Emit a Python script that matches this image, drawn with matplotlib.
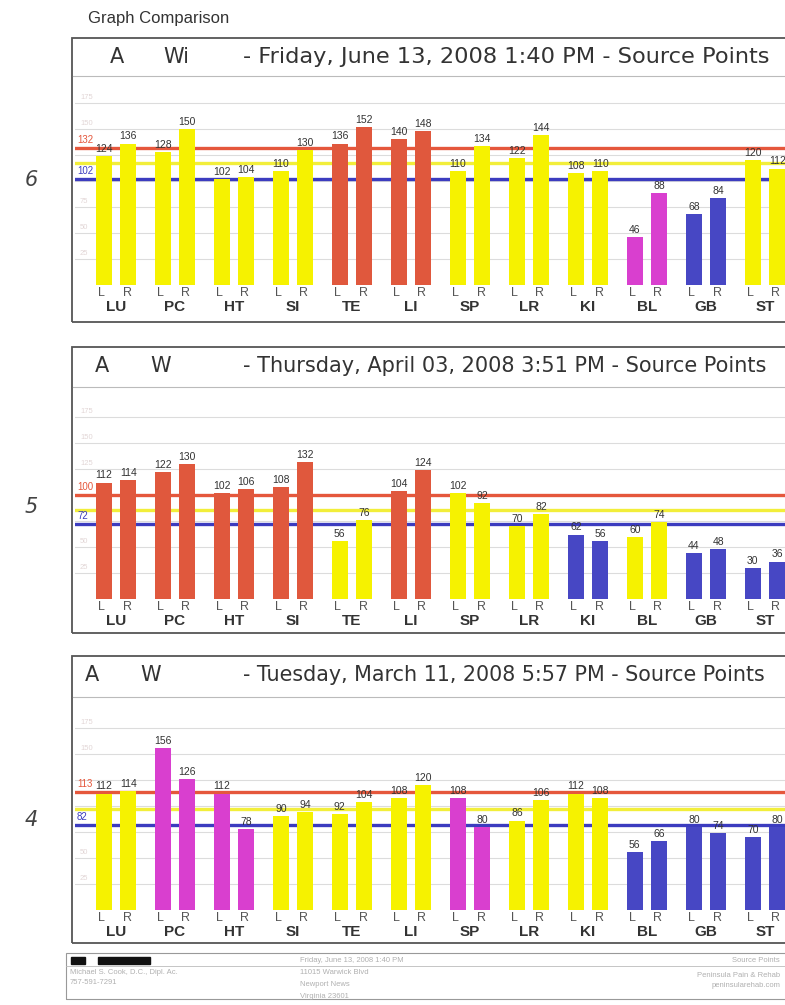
import matplotlib
matplotlib.use('Agg')
import matplotlib.pyplot as plt
from matplotlib.patches import Rectangle
from matplotlib.lines import Line2D

plt.rcParams['font.family'] = ['Liberation Sans', 'DejaVu Sans']

#-------------------------------------------------------------------------------
# data
#-------------------------------------------------------------------------------
groups = ['LU', 'PC', 'HT', 'SI', 'TE', 'LI', 'SP', 'LR', 'KI', 'BL', 'GB', 'ST']
grid_vals = [25, 50, 75, 100, 125, 150, 175]

titles = ['- Friday, June 13, 2008 1:40 PM - Source Points',
          '- Thursday, April 03, 2008 3:51 PM - Source Points',
          '- Tuesday, March 11, 2008 5:57 PM - Source Points']
names = ['Wi', 'W', 'W']
marks = ['6', '5', '4']

june_L = [124, 128, 102, 110, 136, 140, 110, 122, 108, 46, 68, 120]
june_R = [136, 150, 104, 130, 152, 148, 134, 144, 110, 88, 84, 112]
june_col = ['y', 'y', 'y', 'y', 'r', 'r', 'y', 'y', 'y', 'm', 'b', 'y']
june_lines = [132, 117, 102]   # red, yellow, blue

april_L = [112, 122, 102, 108, 56, 104, 102, 70, 62, 60, 44, 30]
april_R = [114, 130, 106, 132, 76, 124, 92, 82, 56, 74, 48, 36]
april_col = ['r', 'r', 'r', 'r', 'y', 'r', 'y', 'y', 'b', 'y', 'b', 'b']
april_lines = [100, 86, 72]

march_L = [112, 156, 112, 90, 92, 108, 108, 86, 112, 56, 80, 70]
march_R = [114, 126, 78, 94, 104, 120, 80, 106, 108, 66, 74, 80]
march_col = ['y', 'm', 'm', 'y', 'y', 'y', 'm', 'y', 'y', 'b', 'b', 'b']
march_lines = [113, 97, 82]

panels = [(june_L, june_R, june_col, june_lines),
          (april_L, april_R, april_col, april_lines),
          (march_L, march_R, march_col, march_lines)]

barcolors = {'y': '#f6f200', 'r': '#e0583d', 'm': '#d93fcf', 'b': '#4747c4'}
linecolors = ['#e5573c', '#f2ee3a', '#3c3cbf']

#-------------------------------------------------------------------------------
W, H = 785, 1005
def rect(x0, y0, x1, y1):
    return [x0/W, 1-y1/H, (x1-x0)/W, (y1-y0)/H]

fig = plt.figure(figsize=(W/100, H/100), dpi=100)
fig.patch.set_facecolor('white')

fig.text(88/W, 1-18/H, 'Graph Comparison', fontsize=12, color='#333333', va='center', ha='left')

tops = [38, 347, 656]
bases = [285, 599, 910]
bottoms = [322, 633, 943]
seps = [76, 387, 697]
a_x = [110, 95, 85]
w_x = [163, 150, 140]
mark_y = [180, 507, 820]
title_fs = [16.2, 15.0, 14.9]
scale = 1.04
x_left, x_right = 75, 800
x0px, step = 116, 59

for k in range(3):
    L, R, col, lines = panels[k]
    T, B, Bt, S = tops[k], bases[k], bottoms[k], seps[k]
    # panel box
    fig.patches.append(Rectangle((72/W, 1-Bt/H), (805-72)/W, (Bt-T)/H, transform=fig.transFigure,
                                 fill=False, edgecolor='#555555', linewidth=1.3))
    fig.lines.append(Line2D([73/W, 1], [1-S/H, 1-S/H], transform=fig.transFigure, color='#bbbbbb', linewidth=0.8))
    ty = 1-(T+19)/H
    fig.text(a_x[k]/W, ty, 'A', fontsize=15, color='#333333', va='center', family=['DejaVu Sans'])
    fig.text(w_x[k]/W, ty, names[k], fontsize=15, color='#333333', va='center', family=['DejaVu Sans'])
    fig.text(243/W, ty, titles[k], fontsize=title_fs[k], color='#333333', va='center', family=['DejaVu Sans'])
    fig.text(25/W, 1-mark_y[k]/H, marks[k], fontsize=15, color='#444444', style='italic',
             family=['DejaVu Sans'], va='center')

    ax = fig.add_axes(rect(x_left, S, x_right, B))
    ax.set_xlim((x_left-x0px)/step, (x_right-x0px)/step)
    ax.set_ylim(0, (B-S)/scale)
    ax.axis('off')
    for g in grid_vals:
        ax.axhline(g, color='#dcdcdc', linewidth=0.8, zorder=0)
        if abs(g - lines[0]) > 16 and abs(g - lines[2]) > 16:
            ax.text((80-x0px)/step, g+2, str(g), fontsize=5.5, color='#e2d6d6', va='bottom', ha='left')
    for v, c in zip(lines, linecolors):
        ax.axhline(v, color=c, linewidth=2.4, zorder=1)
    ax.text((77-x0px)/step, lines[0]+3, str(lines[0]), fontsize=7, color=linecolors[0], va='bottom')
    ax.text((77-x0px)/step, lines[2]+3, str(lines[2]), fontsize=7, color=linecolors[2], va='bottom')

    off, bw = 22/step, 16/step
    for i in range(len(groups)):
        c = barcolors[col[i]]
        ax.bar(i-off/2-0.02, L[i], width=bw, color=c, zorder=2)
        ax.bar(i+off/2+0.02, R[i], width=bw, color=c, zorder=2)
        ax.text(i-off/2-0.02, L[i]+2, str(L[i]), fontsize=7.5, color='#333333', ha='center', va='bottom', zorder=3)
        ax.text(i+off/2+0.02, R[i]+2, str(R[i]), fontsize=7.5, color='#333333', ha='center', va='bottom', zorder=3)
        ax.text(i-off/2-0.06, -7.5, 'L', fontsize=9, color='#555555', ha='center', va='center', clip_on=False)
        ax.text(i+off/2, -7.5, 'R', fontsize=9, color='#555555', ha='center', va='center', clip_on=False)
        ax.text(i, -21, groups[i], fontsize=11, fontweight='bold', color='#333333', ha='center', va='center', clip_on=False)

#-------------------------------------------------------------------------------
# footer
#-------------------------------------------------------------------------------
fig.patches.append(Rectangle((66/W, 1-999/H), (790-66)/W, (999-953)/H, transform=fig.transFigure,
                             fill=False, edgecolor='#999999', linewidth=0.8))
fig.lines.append(Line2D([66/W, 1], [1-966/H, 1-966/H], transform=fig.transFigure, color='#bbbbbb', linewidth=0.6))
fig.patches.append(Rectangle((71/W, 1-964/H), 14/W, 7/H, transform=fig.transFigure, color='#111111'))
fig.patches.append(Rectangle((98/W, 1-964/H), 52/W, 7/H, transform=fig.transFigure, color='#111111'))
fc = '#b0b0b0'
fig.text(300/W, 1-960/H, 'Friday, June 13, 2008 1:40 PM', fontsize=5.5, color=fc, va='center')
fig.text(780/W, 1-960/H, 'Source Points', fontsize=5.5, color=fc, va='center', ha='right')
fig.text(70/W, 1-972/H, 'Michael S. Cook, D.C., Dipl. Ac.', fontsize=5.5, color=fc, va='center')
fig.text(70/W, 1-982/H, '757-591-7291', fontsize=5.5, color=fc, va='center')
fig.text(300/W, 1-972/H, '11015 Warwick Blvd', fontsize=5.5, color=fc, va='center')
fig.text(300/W, 1-984/H, 'Newport News', fontsize=5.5, color=fc, va='center')
fig.text(300/W, 1-996/H, 'Virginia 23601', fontsize=5.5, color=fc, va='center')
fig.text(780/W, 1-975/H, 'Peninsula Pain & Rehab', fontsize=5.5, color=fc, va='center', ha='right')
fig.text(780/W, 1-985/H, 'peninsularehab.com', fontsize=5.5, color=fc, va='center', ha='right')

plt.savefig('out.png', dpi=100)
